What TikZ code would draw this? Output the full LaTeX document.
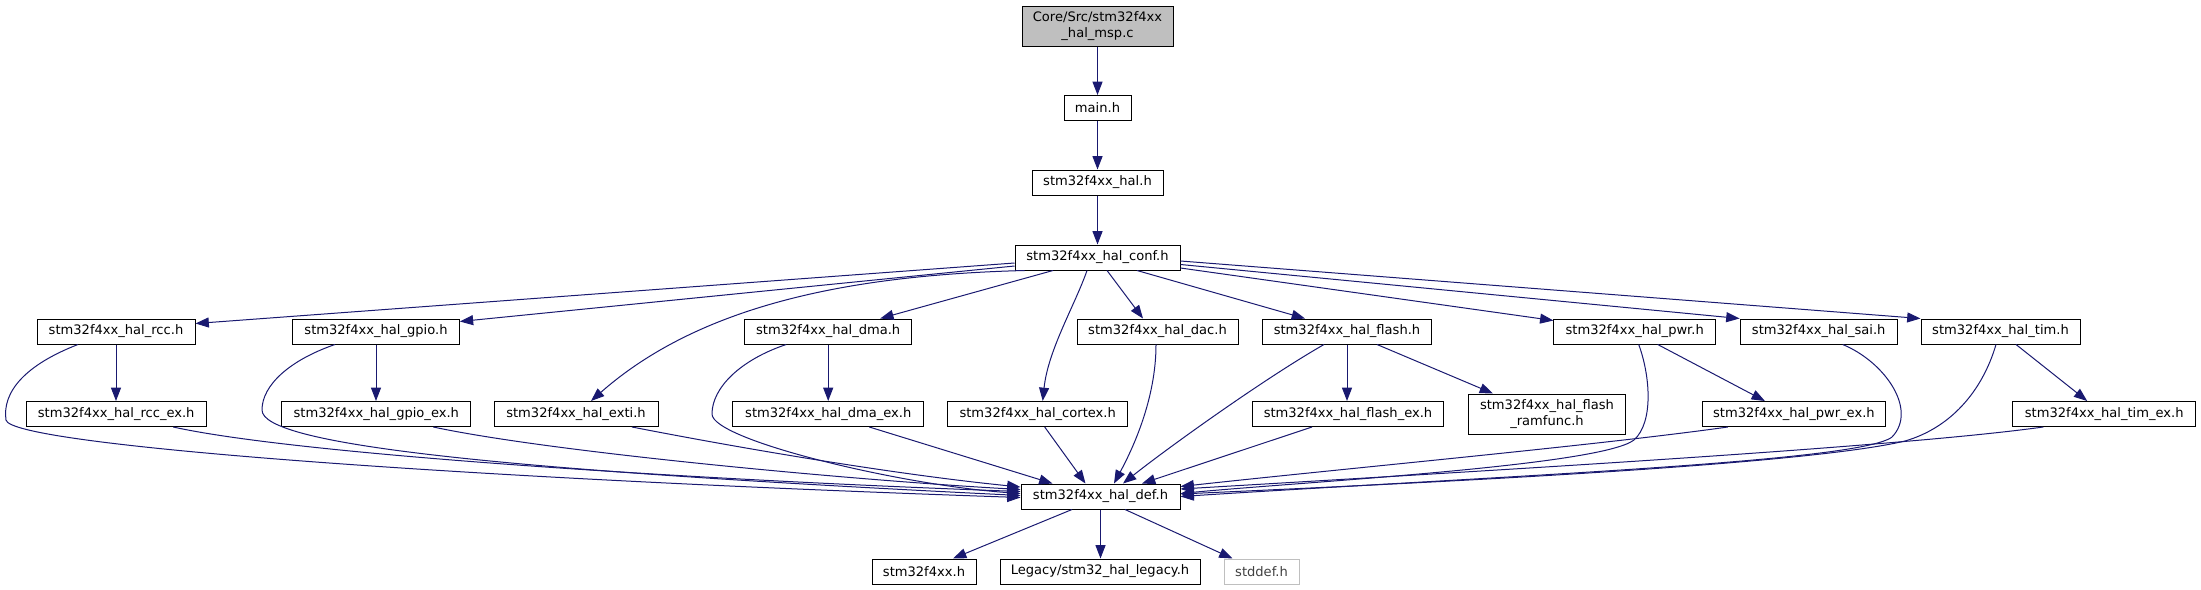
\documentclass[tikz,border=0pt]{standalone}
\usepackage{fontspec}
\setmainfont{DejaVu Sans}
\usetikzlibrary{arrows.meta,calc}
\definecolor{edgeblue}{HTML}{191970}
\definecolor{rootgray}{HTML}{BFBFBF}
\definecolor{lightborder}{HTML}{BFBFBF}
\definecolor{softtext}{HTML}{404040}
\begin{document}
\begin{tikzpicture}[x=0.75pt,y=-0.75pt,
  hbox/.style={draw=black, line width=0.75pt, fill=white, inner xsep=2pt, inner ysep=0pt,
    minimum height=18.75pt, font=\fontsize{9.8}{12}\selectfont, align=center, text=black},
  rootbox/.style={hbox, fill=rootgray, minimum height=30pt},
  tallbox/.style={hbox, minimum height=30pt},
  extbox/.style={hbox, draw=lightborder, text=softtext},
  inc/.style={draw=edgeblue, line width=0.75pt, -{Triangle[length=10pt,width=7.5pt]}}]
\useasboundingbox (0,0) rectangle (2201,589);

% top chain
\node[rootbox, minimum width=113.25pt] (msp) at (1097.5,26) {Core/Src/stm32f4xx\\\_hal\_msp.c};
\node[hbox, minimum width=50.25pt] (main) at (1097.5,108) {main.h};
\node[hbox, minimum width=98.25pt] (hal) at (1097.5,182.5) {stm32f4xx\_hal.h};
\node[hbox, minimum width=123.75pt] (conf) at (1097.5,257.5) {stm32f4xx\_hal\_conf.h};

% row 2
\node[hbox, minimum width=118.5pt] (rcc) at (116,331.5) {stm32f4xx\_hal\_rcc.h};
\node[hbox, minimum width=125pt] (gpio) at (376,331.5) {stm32f4xx\_hal\_gpio.h};
\node[hbox, minimum width=125.25pt] (dma) at (828.2,331.5) {stm32f4xx\_hal\_dma.h};
\node[hbox, minimum width=120.75pt] (dac) at (1157.5,331.5) {stm32f4xx\_hal\_dac.h};
\node[hbox, minimum width=126.75pt] (flash) at (1347,331.5) {stm32f4xx\_hal\_flash.h};
\node[hbox, minimum width=121.2pt] (pwr) at (1634.7,331.5) {stm32f4xx\_hal\_pwr.h};
\node[hbox, minimum width=118pt] (sai) at (1818.7,331.5) {stm32f4xx\_hal\_sai.h};
\node[hbox, minimum width=119.25pt] (tim) at (2000.5,331.5) {stm32f4xx\_hal\_tim.h};

% row 3
\node[hbox, minimum width=134.8pt] (rccex) at (116.2,414) {stm32f4xx\_hal\_rcc\_ex.h};
\node[hbox, minimum width=142pt] (gpioex) at (376.3,414) {stm32f4xx\_hal\_gpio\_ex.h};
\node[hbox, minimum width=123pt] (exti) at (576,414) {stm32f4xx\_hal\_exti.h};
\node[hbox, minimum width=143pt] (dmaex) at (828.3,414) {stm32f4xx\_hal\_dma\_ex.h};
\node[hbox, minimum width=134.6pt] (cortex) at (1037.7,414) {stm32f4xx\_hal\_cortex.h};
\node[hbox, minimum width=143.5pt] (flashex) at (1348,414) {stm32f4xx\_hal\_flash\_ex.h};
\node[tallbox, minimum width=118.1pt] (ramfunc) at (1547,414) {stm32f4xx\_hal\_flash\\\_ramfunc.h};
\node[hbox, minimum width=137.8pt] (pwrex) at (1793.9,414) {stm32f4xx\_hal\_pwr\_ex.h};
\node[hbox, minimum width=137.25pt] (timex) at (2104.2,414) {stm32f4xx\_hal\_tim\_ex.h};

% def and bottom row
\node[hbox, minimum width=119.25pt] (def) at (1100.5,496.5) {stm32f4xx\_hal\_def.h};
\node[hbox, minimum width=78pt] (f4) at (924,571.5) {stm32f4xx.h};
\node[hbox, minimum width=150pt] (legacy) at (1100,571.5) {Legacy/stm32\_hal\_legacy.h};
\node[extbox, minimum width=56.25pt] (stddef) at (1261.5,571.5) {stddef.h};

% chain
\draw[inc] (msp) -- (main);
\draw[inc] (main) -- (hal);
\draw[inc] (hal) -- (conf);

% conf -> row 2 / 3
\draw[inc] ($(conf.west)+(0,5.5)$) -- ($(rcc.east)+(0,-8)$);
\draw[inc] ($(conf.west)+(0,8.5)$) -- ($(gpio.east)+(0,-10)$);
\draw[inc] ($(conf.south west)+(10,0)$) .. controls (850,275) and (700,305) .. ($(exti.north)+(15,0)$);
\draw[inc] ($(conf.south)+(-44.5,0)$) -- ($(dma.north)+(52,0)$);
\draw[inc] ($(conf.south)+(-10.5,0)$) .. controls (1075,305) and (1048,350) .. ($(cortex.north)+(5,0)$);
\draw[inc] ($(conf.south)+(9.5,0)$) -- ($(dac.north)+(-14.5,0)$);
\draw[inc] ($(conf.south)+(39.5,0)$) -- ($(flash.north)+(-42,0)$);
\draw[inc] ($(conf.east)+(0,10.5)$) -- ($(pwr.north west)+(0,2)$);
\draw[inc] ($(conf.east)+(0,7)$) -- (sai.north west);
\draw[inc] ($(conf.east)+(0,3.5)$) -- (tim.north west);

% rcc
\draw[inc] (rcc.south) -- (rcc.south |- rccex.north);
\draw[inc] ($(rcc.south)+(-38,0)$) .. controls (25,365) and (2,392) .. (6,420)
  .. controls (10,445) and (450,478) .. ($(def.west)+(0,1)$);
\draw[inc] ($(rccex.south)+(57,0)$) .. controls (300,455) and (700,480) .. ($(def.west)+(0,-5)$);

% gpio
\draw[inc] (gpio.south) -- (gpio.south |- gpioex.north);
\draw[inc] ($(gpio.south)+(-41,0)$) .. controls (290,360) and (262,385) .. (262,410)
  .. controls (262,445) and (500,470) .. ($(def.west)+(0,-1)$);
\draw[inc] ($(gpioex.south)+(57,0)$) .. controls (550,452) and (850,480) .. ($(def.west)+(0,-7)$);

% exti
\draw[inc] ($(exti.south)+(56,0)$) .. controls (750,450) and (900,475) .. ($(def.west)+(0,-9.5)$);

% dma
\draw[inc] (dma.south) -- (dma.south |- dmaex.north);
\draw[inc] ($(dma.south)+(-42,0)$) .. controls (740,360) and (712,388) .. (712,414)
  .. controls (712,440) and (900,485) .. ($(def.west)+(0,-3)$);
\draw[inc] ($(dmaex.south)+(41,0)$) -- ($(def.north)+(-48,0)$);

% cortex, dac
\draw[inc] ($(cortex.south)+(7,0)$) -- ($(def.north)+(-15,0)$);
\draw[inc] ($(dac.south)+(-1.5,0)$) .. controls (1156,400) and (1132,450) .. ($(def.north)+(13.5,0)$);

% flash
\draw[inc] (flash.south) -- (flash.south |- flashex.north);
\draw[inc] ($(flash.south)+(30,0)$) -- ($(ramfunc.north)+(-54,0)$);
\draw[inc] ($(flash.south)+(-23,0)$) .. controls (1262,380) and (1165,450) .. ($(def.north)+(22.5,0)$);
\draw[inc] ($(flashex.south)+(-36,0)$) -- ($(def.north)+(41.5,0)$);

% pwr
\draw[inc] ($(pwr.south)+(23,0)$) -- ($(pwrex.north)+(-29,0)$);
\draw[inc] ($(pwr.south)+(4,0)$) .. controls (1650,375) and (1654,422) .. (1634,440)
  .. controls (1600,466) and (1300,482) .. ($(def.east)+(0,-3)$);
\draw[inc] ($(pwrex.south)+(-66,0)$) .. controls (1600,445) and (1350,468) .. ($(def.east)+(0,-10)$);

% sai
\draw[inc] ($(sai.south)+(24,0)$) .. controls (1885,362) and (1918,410) .. (1892,437)
  .. controls (1860,462) and (1500,476) .. (def.east);

% tim
\draw[inc] ($(tim.south)+(15.5,0)$) -- ($(timex.north)+(-17,0)$);
\draw[inc] ($(tim.south)+(-4.5,0)$) .. controls (1982,392) and (1950,428) .. (1905,441)
  .. controls (1800,466) and (1400,484) .. ($(def.east)+(0,-2.5)$);
\draw[inc] ($(timex.south)+(-61,0)$) .. controls (1900,447) and (1500,470) .. ($(def.east)+(0,-7.5)$);

% def -> bottom
\draw[inc] ($(def.south)+(-28.5,0)$) -- ($(f4.north)+(29,0)$);
\draw[inc] (def.south) -- (def.south |- legacy.north);
\draw[inc] ($(def.south)+(24.5,0)$) -- ($(stddef.north)+(-29,0)$);
\end{tikzpicture}
\end{document}
